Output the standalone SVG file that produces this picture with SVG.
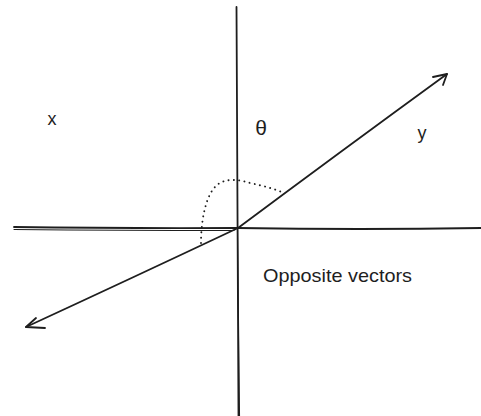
<svg xmlns="http://www.w3.org/2000/svg" width="481" height="416" viewBox="0 0 481 416">
  <style>
    .ln { fill: none; stroke: #1e1e1e; stroke-width: 1.8; stroke-linecap: round; stroke-linejoin: round; }
    .thin { fill: none; stroke: #1e1e1e; stroke-width: 1.1; stroke-linecap: round; }
    .dot { fill: none; stroke: #1e1e1e; stroke-width: 1.9; stroke-dasharray: 0.1 5.2; stroke-linecap: round; }
    .lbl { font-family: "Liberation Sans", "DejaVu Sans", sans-serif; fill: #1e1e1e; }
  </style>
  <rect width="481" height="416" fill="#ffffff"/>
  <g id="connectors">
    <g id="vertical-axis">
      <path class="ln" d="M236.5 7 Q237.5 200 238.5 416"/>
      <path class="thin" d="M237.5 230 L239.5 416"/>
    </g>
    <g id="horizontal-axis">
      <path class="ln" d="M14 227 Q120 228.5 238 228"/>
      <path class="thin" d="M14 229.5 Q120 230.5 234 230.5"/>
      <path class="ln" d="M238 228 Q360 230 481 228"/>
    </g>
    <g id="vector-y">
      <path class="ln" d="M238 228 Q340 152 447 74"/>
      <path class="ln" d="M433 77 L447 74 L443 85"/>
    </g>
    <g id="vector-x">
      <path class="ln" d="M238 228 Q130 279 26 327"/>
      <path class="ln" d="M36 318 L26 327 L45 328"/>
    </g>
    <g id="angle-arc">
      <path class="dot" d="M201 243 C201 220 206 195 216 186 C224 178 238 179 250 183 C264 186 275 189 284 193"/>
    </g>
  </g>
  <g id="label-x"><text class="lbl" x="52" y="125" font-size="18" text-anchor="middle">x</text></g>
  <g id="label-theta"><text class="lbl" x="261" y="135" font-size="21" text-anchor="middle">θ</text></g>
  <g id="label-y"><text class="lbl" x="422" y="139" font-size="18" text-anchor="middle">y</text></g>
  <g id="label-opposite"><text class="lbl" x="263" y="282" font-size="19" textLength="149" lengthAdjust="spacingAndGlyphs">Opposite vectors</text></g>
</svg>
